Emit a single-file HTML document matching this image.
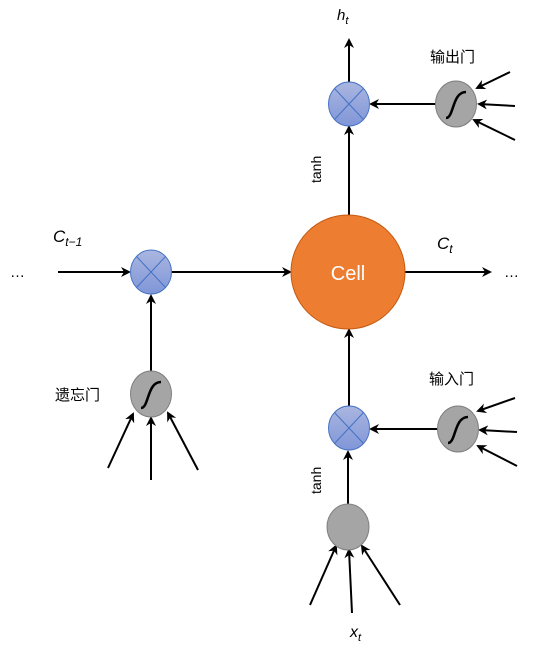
<!DOCTYPE html>
<html><head><style>body{margin:0;background:#fff}svg{display:block}text{font-family:"Liberation Sans","Noto Sans CJK SC",sans-serif}</style></head><body>
<svg width="558" height="655" viewBox="0 0 558 655">
<defs>
<marker id="a" markerWidth="10" markerHeight="10" refX="8" refY="5" orient="auto" markerUnits="userSpaceOnUse"><path d="M0,0 L10,5 L0,10 L3,5 z" fill="#000"/></marker>
<linearGradient id="b" x1="0" y1="0" x2="0" y2="1"><stop offset="0" stop-color="#aab6e0"/><stop offset="1" stop-color="#8096d8"/></linearGradient>
</defs>
<g stroke="#000" stroke-width="2" fill="none" marker-end="url(#a)">
<line x1="349" y1="83" x2="349" y2="40"/>
<line x1="349" y1="215" x2="349" y2="127"/>
<line x1="436" y1="104" x2="371" y2="104"/>
<line x1="510" y1="72" x2="477" y2="88"/>
<line x1="515" y1="106" x2="479" y2="104"/>
<line x1="515" y1="140" x2="474" y2="120"/>
<line x1="58" y1="272" x2="129" y2="272"/>
<line x1="172" y1="272" x2="290" y2="272"/>
<line x1="405" y1="272" x2="490" y2="272"/>
<line x1="151" y1="371" x2="151" y2="296"/>
<line x1="108" y1="468" x2="133" y2="414"/>
<line x1="151" y1="480" x2="151" y2="418"/>
<line x1="198" y1="470" x2="168" y2="413"/>
<line x1="349" y1="406" x2="349" y2="330"/>
<line x1="438" y1="429" x2="371" y2="429"/>
<line x1="515" y1="398" x2="478" y2="411"/>
<line x1="517" y1="432" x2="480" y2="430"/>
<line x1="517" y1="466" x2="478" y2="446"/>
<line x1="348" y1="504" x2="348" y2="452"/>
<line x1="310" y1="605" x2="336" y2="546"/>
<line x1="352" y1="613" x2="349" y2="550"/>
<line x1="400" y1="605" x2="362" y2="546"/>
</g>
<circle cx="348" cy="272" r="57" fill="#ed7d31" stroke="#c55a11" stroke-width="1"/>
<text x="348" y="280" font-size="20" fill="#fff" text-anchor="middle">Cell</text>
<g stroke="#4472c4" stroke-width="1">
<g transform="translate(349,104)"><ellipse rx="20.5" ry="22" fill="url(#b)"/><line x1="-14.5" y1="-15.5" x2="14.5" y2="15.5"/><line x1="14.5" y1="-15.5" x2="-14.5" y2="15.5"/></g>
<g transform="translate(151,272)"><ellipse rx="20.5" ry="22" fill="url(#b)"/><line x1="-14.5" y1="-15.5" x2="14.5" y2="15.5"/><line x1="14.5" y1="-15.5" x2="-14.5" y2="15.5"/></g>
<g transform="translate(349,428)"><ellipse rx="20.5" ry="22" fill="url(#b)"/><line x1="-14.5" y1="-15.5" x2="14.5" y2="15.5"/><line x1="14.5" y1="-15.5" x2="-14.5" y2="15.5"/></g>
</g>
<g stroke="#7f7f7f" stroke-width="1" fill="#a5a5a5">
<ellipse cx="456" cy="104" rx="20.5" ry="23"/>
<ellipse cx="151" cy="394" rx="20.5" ry="23"/>
<ellipse cx="458" cy="429" rx="20.5" ry="23"/>
<ellipse cx="348" cy="527" rx="21" ry="23"/>
</g>
<g stroke="#000" stroke-width="2.5" fill="none">
<path d="M446,118 C454,118 452,92 466,92" transform="translate(0,0)"/>
<path d="M141,408 C149,408 147,382 161,382"/>
<path d="M448,443 C456,443 454,417 468,417"/>
</g>
<g font-size="15" fill="#000">
<text x="337" y="20" font-style="italic" font-family="Liberation Serif">h<tspan font-size="11" dy="4">t</tspan></text>
<text x="430" y="62">输出门</text>
<text x="429" y="384">输入门</text>
<text x="55" y="400">遗忘门</text>
<text x="53" y="242" font-style="italic" font-family="Liberation Serif" font-size="17">C<tspan font-size="12" dy="4">t−1</tspan></text>
<text x="437" y="249" font-style="italic" font-family="Liberation Serif" font-size="17">C<tspan font-size="12" dy="4">t</tspan></text>
<text x="350" y="637" font-style="italic" font-family="Liberation Serif" font-size="16">x<tspan font-size="11" dy="4">t</tspan></text>
<text x="10" y="277">…</text>
<text x="504" y="277">…</text>
<text transform="translate(321,183) rotate(-90)" font-size="14">tanh</text>
<text transform="translate(321,494) rotate(-90)" font-size="14">tanh</text>
</g>
</svg>
</body></html>
